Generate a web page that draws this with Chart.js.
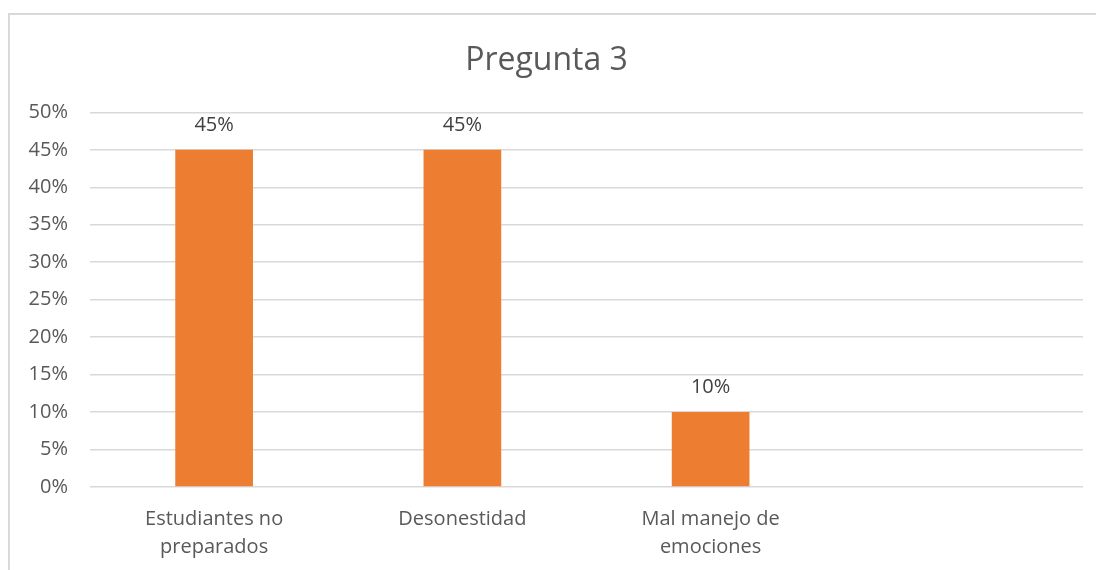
<!DOCTYPE html>
<html lang="es">
<head>
    <meta charset="UTF-8">
    <title>Pregunta 3</title>
    <script src="https://cdn.jsdelivr.net/npm/chart.js"></script>
    <style>
        html, body { margin: 0; padding: 0; background: #fff; }
        #wrap { position: relative; width: 1096px; height: 570px; }
        #frame {
            position: absolute; left: 8px; top: 13px; right: 0; bottom: 0;
            border-left: 2px solid #d9d9d9; border-top: 2px solid #d9d9d9;
            pointer-events: none;
        }
    </style>
</head>
<body>
    <div id="wrap">
        <canvas id="chart" width="1096" height="570"></canvas>
        <div id="frame"></div>
    </div>

    <script>
        // datos de la gráfica
        const categorias = [['Estudiantes no', 'preparados'], 'Desonestidad', ['Mal manejo de', 'emociones'], ''];
        const porcentajes = [0.45, 0.45, 0.10, null];
        const etiquetasY = ['0%', '5%', '10%', '15%', '20%', '25%', '30%', '35%', '40%', '45%', '50%'];

        const fuente = '"Open Sans", "Noto Sans", sans-serif';

        // etiquetas de datos encima de cada barra
        const etiquetasDatos = {
            id: 'etiquetasDatos',
            afterDatasetsDraw(chart) {
                const ctx = chart.ctx;
                const meta = chart.getDatasetMeta(0);
                ctx.save();
                ctx.font = '20px ' + fuente;
                ctx.fillStyle = '#404040';
                ctx.textAlign = 'center';
                ctx.textBaseline = 'middle';
                meta.data.forEach((bar, i) => {
                    const v = porcentajes[i];
                    if (v === null) return;
                    ctx.fillText(Math.round(v * 100) + '%', bar.x, bar.y - 25);
                });
                ctx.restore();
            }
        };

        new Chart(document.getElementById('chart'), {
            type: 'bar',
            data: {
                labels: categorias,
                datasets: [{
                    data: porcentajes,
                    backgroundColor: '#ED7D31',
                    categoryPercentage: 1,
                    barPercentage: 0.313
                }]
            },
            options: {
                responsive: false,
                animation: false,
                layout: { padding: { left: 10, right: 13, top: 0, bottom: 0 } },
                plugins: {
                    legend: { display: false },
                    tooltip: { enabled: false },
                    title: {
                        display: true,
                        text: 'Pregunta 3',
                        color: '#595959',
                        font: { family: fuente, size: 32, weight: 'normal', lineHeight: 1.2 },
                        padding: { top: 42, bottom: 32 }
                    }
                },
                scales: {
                    x: {
                        grid: { display: false, drawTicks: false },
                        border: { display: false },
                        ticks: {
                            color: '#595959',
                            padding: 18,
                            maxRotation: 0,
                            autoSkip: false,
                            font: { family: fuente, size: 20, lineHeight: 1.4 }
                        },
                        afterFit(scale) { scale.height = 83; }
                    },
                    y: {
                        min: 0,
                        max: 0.5,
                        grid: { color: '#d9d9d9', lineWidth: 1.5, drawTicks: false },
                        border: { display: false },
                        ticks: {
                            stepSize: 0.05,
                            color: '#595959',
                            padding: 22,
                            font: { family: fuente, size: 20 },
                            callback: (v, i) => etiquetasY[i]
                        },
                        afterFit(scale) { scale.width = 80; }
                    }
                }
            },
            plugins: [etiquetasDatos]
        });
    </script>
</body>
</html>
